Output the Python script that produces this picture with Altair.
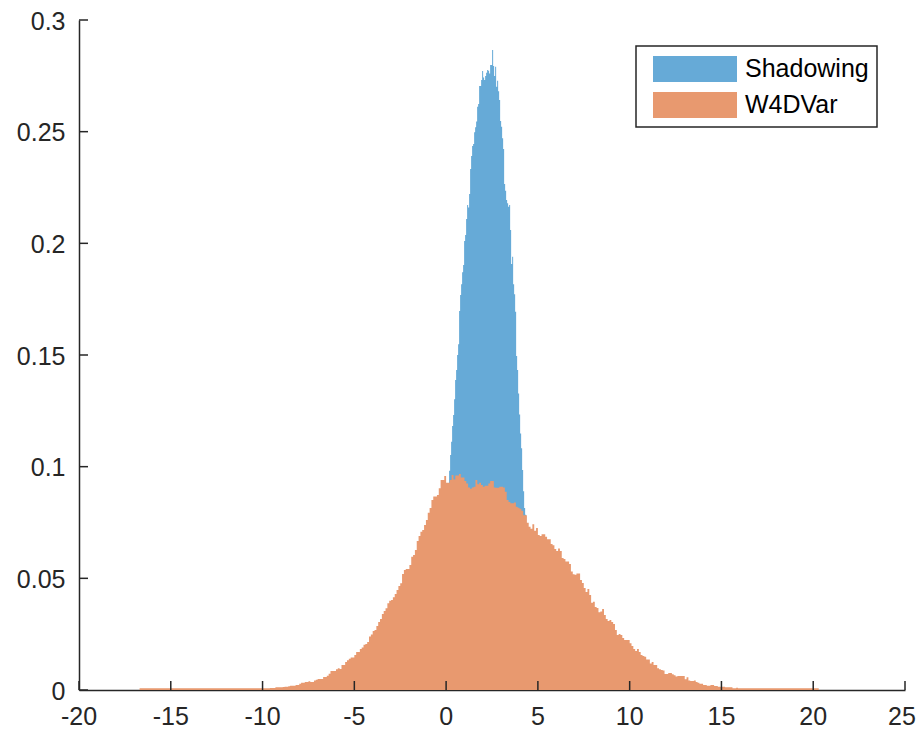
import altair as alt
import pandas as pd

# ---------------- data ----------------
SERIES = ["Shadowing", "W4DVar"]
COLORS = ["#66AAD7", "#E8996F"]

# Shadowing histogram (narrow bins)
SHADOW_START = 0.0
SHADOW_WIDTH = 0.0545
SHADOW_VALUES = [
    0.020, 0.045, 0.075, 0.0982, 0.1052, 0.1112, 0.1182, 0.1231, 0.1302, 0.1388,
    0.1433, 0.1500, 0.1548, 0.1697, 0.1769, 0.1817, 0.1870, 0.1903, 0.2010, 0.2037,
    0.2109, 0.2172, 0.2160, 0.2221, 0.2333, 0.2391, 0.2436, 0.2445, 0.2497, 0.2520,
    0.2545, 0.2612, 0.2624, 0.2704, 0.2704, 0.2731, 0.2772, 0.2742, 0.2731, 0.2749,
    0.2764, 0.2776, 0.2773, 0.2761, 0.2799, 0.2799, 0.2866, 0.2794, 0.2749, 0.2791,
    0.2701, 0.2728, 0.2681, 0.2642, 0.2548, 0.2522, 0.2470, 0.2422, 0.2266, 0.2236,
    0.2194, 0.2179, 0.2164, 0.2172, 0.2060, 0.1907, 0.1940, 0.1817, 0.1772, 0.1694,
    0.1496, 0.1433, 0.1328, 0.1234, 0.1149, 0.1082, 0.0985, 0.0890, 0.0815, 0.0785,
    0.0400,
]

# W4DVar histogram, bin width 0.1, in segments
W4_WIDTH = 0.1
W4_LEFT_START = -10.0
W4_LEFT = [
    0.0008, 0.0008, 0.0008, 0.0008, 0.0009, 0.0009, 0.0009, 0.0012, 0.0012, 0.0012,
    0.0012, 0.0013, 0.0015, 0.0015, 0.0017, 0.0019, 0.0019, 0.0019, 0.0022, 0.0022,
    0.0028, 0.0033, 0.0033, 0.0036, 0.0036, 0.0039, 0.0036, 0.0036, 0.0043, 0.0046,
    0.0049, 0.0049, 0.0049, 0.0058, 0.0058, 0.0064, 0.0073, 0.0085, 0.0085, 0.0085,
    0.0093, 0.0097, 0.0094, 0.0112, 0.0112, 0.0125, 0.0133, 0.0140, 0.0145, 0.0145,
    0.0157, 0.0170, 0.0170, 0.0184, 0.0190, 0.0203, 0.0206, 0.0215, 0.0239, 0.0249,
    0.0264, 0.0269, 0.0287, 0.0304, 0.0318, 0.0340, 0.0354, 0.0366, 0.0388, 0.0400,
    0.0403, 0.0415, 0.0430, 0.0448,
]
W4_MID_START = -2.6
W4_MID = [
    0.0466, 0.0478, 0.0519, 0.0537, 0.0542, 0.0542, 0.0560, 0.0597, 0.0604, 0.0627,
    0.0667, 0.0690, 0.0709, 0.0716, 0.0739, 0.0761, 0.0794, 0.0815, 0.0851, 0.0866,
    0.0866, 0.0873, 0.0903, 0.0940, 0.0940, 0.0958, 0.0928, 0.0928, 0.0940, 0.0963,
    0.0943, 0.0960, 0.0960, 0.0967, 0.0952, 0.0952, 0.0936, 0.0925, 0.0907, 0.0901,
    0.0907, 0.0910, 0.0940, 0.0921, 0.0928, 0.0918, 0.0910, 0.0915, 0.0915, 0.0925,
    0.0936, 0.0936, 0.0907, 0.0906, 0.0906, 0.0910, 0.0910, 0.0907, 0.0888, 0.0851,
    0.0842, 0.0836, 0.0836, 0.0840, 0.0821, 0.0816, 0.0812, 0.0803, 0.0782, 0.0782,
    0.0749, 0.0731, 0.0722, 0.0742, 0.0713, 0.0725, 0.0694, 0.0690, 0.0697, 0.0697,
    0.0686, 0.0675, 0.0675, 0.0654, 0.0648, 0.0631, 0.0622, 0.0634, 0.0622, 0.0591,
    0.0587, 0.0575, 0.0575, 0.0564, 0.0531, 0.0518, 0.0516, 0.0522, 0.0522,
]
W4_R1_START = 7.3
W4_R1 = [0.0493, 0.0479, 0.0457, 0.0439, 0.0452, 0.0425, 0.0391, 0.0395, 0.0372, 0.0367, 0.0348]
W4_R2_START = 8.4
W4_R2 = [
    0.0351, 0.0363, 0.0336, 0.0318, 0.0309, 0.0313, 0.0304, 0.0296, 0.0269, 0.0246,
    0.0251, 0.0246, 0.0233, 0.0224, 0.0224, 0.0224, 0.0209, 0.0197, 0.0184, 0.0175,
    0.0184, 0.0170, 0.0157, 0.0152, 0.0149, 0.0137, 0.0137, 0.0119, 0.0125, 0.0112,
    0.0112, 0.0097, 0.0093, 0.0090, 0.0087, 0.0072, 0.0072, 0.0076, 0.0076, 0.0070,
    0.0066, 0.0060, 0.0063, 0.0063, 0.0063, 0.0063, 0.0048, 0.0057, 0.0043, 0.0040,
    0.0040, 0.0043, 0.0036, 0.0033, 0.0028, 0.0028, 0.0022, 0.0022, 0.0019, 0.0019,
    0.0022, 0.0022, 0.0018, 0.0018, 0.0015, 0.0015, 0.0015, 0.0015, 0.0012, 0.0012,
    0.0012, 0.0012, 0.0008, 0.0008, 0.0010, 0.0008, 0.0008, 0.0008,
]
# long flat tails
W4_TAIL_FROM = [-16.7, 16.2]
W4_TAIL_TO = [-10.0, 20.3]
W4_TAIL_VAL = [0.0008, 0.0008]

X_TICKS = [-20, -15, -10, -5, 0, 5, 10, 15, 20, 25]
X_LABELS = ["-20", "-15", "-10", "-5", "0", "5", "10", "15", "20", "25"]
Y_TICKS = [0, 0.05, 0.1, 0.15, 0.2, 0.25, 0.3]

# ---------------- build step tables (bin left edges + closing edge) ----------------
blue_rows = [{"bx": SHADOW_START + i * SHADOW_WIDTH, "h": v, "series": SERIES[0]}
             for i, v in enumerate(SHADOW_VALUES)]
blue_rows.append({"bx": SHADOW_START + len(SHADOW_VALUES) * SHADOW_WIDTH, "h": 0.0,
                  "series": SERIES[0]})
blue_df = pd.DataFrame(blue_rows)

orange_rows = [{"bx": W4_TAIL_FROM[0], "h": W4_TAIL_VAL[0], "series": SERIES[1]}]
for start, vals in [(W4_LEFT_START, W4_LEFT), (W4_MID_START, W4_MID),
                    (W4_R1_START, W4_R1), (W4_R2_START, W4_R2)]:
    for i, v in enumerate(vals):
        orange_rows.append({"bx": round(start + i * W4_WIDTH, 4), "h": v, "series": SERIES[1]})
orange_rows.append({"bx": W4_TAIL_FROM[1], "h": W4_TAIL_VAL[1], "series": SERIES[1]})
orange_rows.append({"bx": W4_TAIL_TO[1], "h": 0.0, "series": SERIES[1]})
orange_df = pd.DataFrame(orange_rows)

W, H = 826, 670
AX = "#262626"
FONT = "Liberation Sans"

xscale = alt.Scale(domain=[-20, 25], nice=False, zero=False)
yscale = alt.Scale(domain=[0, 0.3], nice=False)
cscale = alt.Scale(domain=SERIES, range=COLORS)

swatch = "M-2.8,-0.867L2.8,-0.867L2.8,0.867L-2.8,0.867Z"
legend = alt.Legend(orient="none", legendX=557, legendY=26, title=None,
                    symbolType=swatch, symbolSize=900,
                    symbolStrokeWidth=0, symbolOpacity=1,
                    labelFontSize=25, labelFont=FONT, labelColor="#000000",
                    padding=8, symbolOffset=36, labelOffset=35, rowPadding=7)

xaxis = alt.Axis(values=X_TICKS, title=None, labels=False)
yaxis = alt.Axis(values=Y_TICKS, title=None, labelExpr="toString(datum.value)",
                 labelOffset=1)


def hist(df):
    return alt.Chart(df).mark_area(interpolate="step-after").encode(
        x=alt.X("bx:Q", scale=xscale, axis=xaxis),
        y=alt.Y("h:Q", scale=yscale, axis=yaxis, stack=None),
        color=alt.Color("series:N", scale=cscale, sort=SERIES, legend=legend),
    )


blue = hist(blue_df)
orange = hist(orange_df)

xt = pd.DataFrame({"v": X_TICKS, "lab": X_LABELS})
yt = pd.DataFrame({"v": Y_TICKS})
xticks = alt.Chart(xt).mark_rule(color=AX, strokeWidth=1.5).encode(
    x=alt.X("v:Q", scale=xscale), y=alt.value(H), y2=alt.value(H - 9))
yticks = alt.Chart(yt).mark_rule(color=AX, strokeWidth=1.5).encode(
    y=alt.Y("v:Q", scale=yscale), x=alt.value(0), x2=alt.value(9))

# x tick labels (the last one nudged inward so it stays inside the page)
xlab_main = alt.Chart(xt[xt["v"] < 25]).mark_text(
    font=FONT, fontSize=25, color=AX, align="center", baseline="middle"
).encode(x=alt.X("v:Q", scale=xscale), y=alt.value(H + 27), text="lab:N")
xlab_last = alt.Chart(xt[xt["v"] == 25]).mark_text(
    font=FONT, fontSize=25, color=AX, align="center", baseline="middle", dx=-3
).encode(x=alt.X("v:Q", scale=xscale), y=alt.value(H + 27), text="lab:N")

chart = alt.layer(blue, orange, xticks, yticks, xlab_main, xlab_last).properties(
    width=W, height=H,
    autosize=alt.AutoSizeParams(type="none"),
    padding={"left": 71, "top": 12, "right": 11, "bottom": 40},
).configure_view(stroke=None).configure_axis(
    domainColor=AX, domainWidth=1.5, ticks=False, grid=False,
    labelFont=FONT, labelFontSize=25, labelColor=AX, zindex=1,
).configure_axisY(labelPadding=14).configure_legend(
    strokeColor=AX, strokeWidth=1.5, fillColor="white", cornerRadius=0,
)

chart.save("out.html", embed_options={"renderer": "svg", "actions": False})
